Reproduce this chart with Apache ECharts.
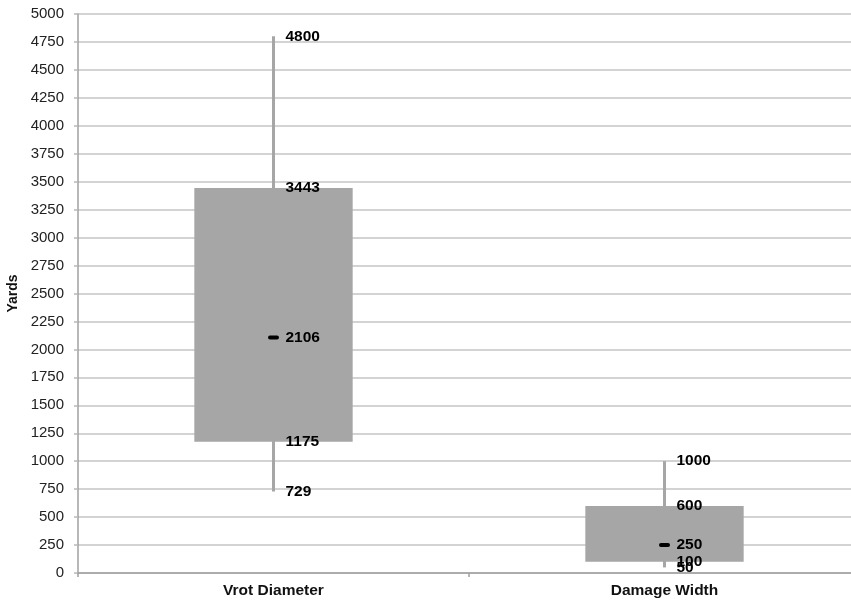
<!DOCTYPE html>
<html>
<head>
<meta charset="utf-8">
<script src="https://cdn.jsdelivr.net/npm/echarts@6/dist/echarts.min.js"></script>
<style>html,body{margin:0;padding:0;background:#fff}#c{width:851px;height:601px}</style>
</head>
<body>
<div id="c"></div>
<script>
const categories = ['Vrot Diameter', 'Damage Width'];
const minVals = [729, 50];
const q1Vals = [1175, 100];
const medianVals = [2106, 250];
const q3Vals = [3443, 600];
const maxVals = [4800, 1000];
const yTicks = { min: 0, max: 5000, interval: 250 };

const data = categories.map((c, i) => [i, minVals[i], q1Vals[i], medianVals[i], q3Vals[i], maxVals[i]]);

const chart = echarts.init(document.getElementById('c'));
const font = 'Arial, "Liberation Sans", sans-serif';
chart.setOption({
  animation: false,
  grid: { left: 78, width: 782, top: 14, bottom: 28, outerBoundsMode: 'none', containLabel: false },
  xAxis: {
    type: 'category',
    data: categories,
    axisLine: { lineStyle: { color: '#a0a0a0', width: 1.5 } },
    axisTick: { show: true, length: 4, lineStyle: { color: '#a0a0a0', width: 1.5 } },
    axisLabel: { color: '#111', fontWeight: 'bold', fontSize: 15.5, fontFamily: font, margin: 10 },
    splitLine: { show: false }
  },
  yAxis: {
    type: 'value',
    min: yTicks.min, max: yTicks.max, interval: yTicks.interval,
    name: 'Yards',
    nameLocation: 'middle',
    nameGap: 53,
    nameTextStyle: { color: '#111', fontWeight: 'bold', fontSize: 14, fontFamily: font },
    axisLine: { show: true, lineStyle: { color: '#a0a0a0', width: 1.5 } },
    axisTick: { show: true, length: 4, lineStyle: { color: '#b8b8b8', width: 1.5 } },
    axisLabel: { color: '#222', fontSize: 15, fontFamily: font, margin: 14, formatter: v => String(v) },
    splitLine: { lineStyle: { color: '#c4c4c4', width: 1.5 } }
  },
  series: [{
    type: 'custom',
    data: data,
    encode: { x: 0, y: [1, 2, 3, 4, 5] },
    renderItem: function (params, api) {
      const idx = api.value(0);
      const x = api.coord([idx, 0])[0];
      const bw = api.size([1, 0])[0] * 0.405;
      const vals = [api.value(1), api.value(2), api.value(3), api.value(4), api.value(5)];
      const ys = vals.map(v => api.coord([idx, v])[1]);
      const children = [];
      children.push({ type: 'line', shape: { x1: x, y1: ys[4], x2: x, y2: ys[0] }, style: { stroke: '#a6a6a6', lineWidth: 3 } });
      children.push({ type: 'rect', shape: { x: x - bw / 2, y: ys[3], width: bw, height: ys[1] - ys[3] }, style: { fill: '#a6a6a6' } });
      children.push({ type: 'rect', shape: { x: x - 5.5, y: ys[2] - 2, width: 11, height: 4, r: 2 }, style: { fill: '#000' } });
      const order = [4, 3, 2, 1, 0];
      order.forEach(k => {
        children.push({ type: 'text', x: x + 12, y: ys[k], style: { text: String(vals[k]), fill: '#000', font: 'bold 15.5px ' + font, verticalAlign: 'middle', align: 'left' } });
      });
      return { type: 'group', children: children };
    }
  }]
});
</script>
</body>
</html>
